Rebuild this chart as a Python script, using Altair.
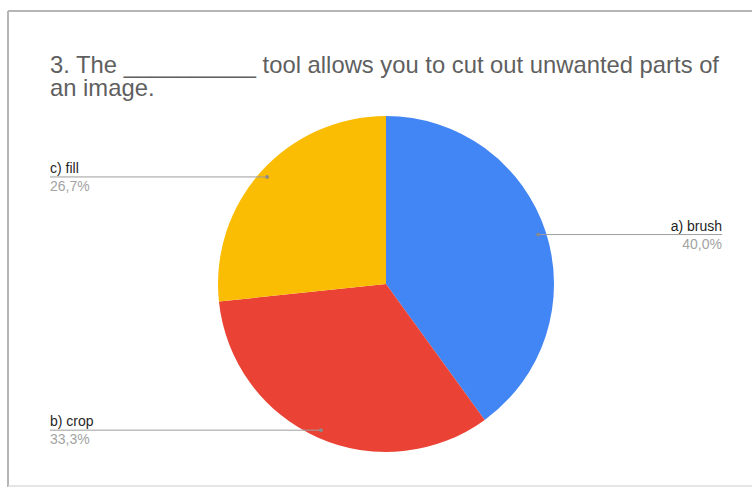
import altair as alt
import pandas as pd

# ---- data ----
categories = ["a) brush", "b) crop", "c) fill"]
counts = [6, 5, 4]
colors = ["#4285F4", "#EA4335", "#FBBC04"]
title_lines = [
    "3. The __________ tool allows you to cut out unwanted parts of",
    "an image.",
]

df = pd.DataFrame({"cat": categories, "count": counts, "idx": list(range(len(categories)))})

CX, CY, R, RL = 386, 284, 168, 160
LEFT_X, RIGHT_X = 50, 722
FONT = "Liberation Sans"

color_scale = alt.Scale(domain=categories, range=colors)

pie = alt.Chart(df).mark_arc(radius=R).encode(
    theta=alt.Theta("count:Q", stack=True),
    color=alt.Color("cat:N", scale=color_scale, legend=None),
    order=alt.Order("idx:Q"),
    x=alt.value(CX),
    y=alt.value(CY),
)

base = (
    alt.Chart(df)
    .transform_joinaggregate(total="sum(count)")
    .transform_window(cum="sum(count)", sort=[alt.SortField("idx")], frame=[None, 0])
    .transform_calculate(
        mid="(datum.cum - datum.count/2) / datum.total * 2 * PI",
        pct="datum.count / datum.total",
    )
    .transform_calculate(
        px=f"{CX} + {RL} * sin(datum.mid)",
        py=f"{CY} - {RL} * cos(datum.mid)",
        ptxt="replace(format(datum.pct, '.1%'), '.', ',')",
    )
    .transform_calculate(
        side=f"datum.px > {CX} ? 'right' : 'left'",
        x1=f"datum.px > {CX} ? datum.px : {LEFT_X}",
        x2=f"datum.px > {CX} ? {RIGHT_X} : datum.px",
        lx=f"datum.px > {CX} ? {RIGHT_X} : {LEFT_X}",
        ly="datum.py - 4",
        py2="datum.py + 14",
    )
)

xs = lambda f: alt.X(f"{f}:Q", scale=None, axis=None)
ys = lambda f: alt.Y(f"{f}:Q", scale=None, axis=None)

leaders = base.mark_rule(color="#9e9e9e", strokeWidth=1).encode(
    x=xs("x1"), x2="x2:Q", y=ys("py")
)
dots = base.mark_circle(size=14, color="#8a8a8a", opacity=1).encode(x=xs("px"), y=ys("py"))


def labels(side, align):
    b = base.transform_filter(f"datum.side == '{side}'")
    name = b.mark_text(
        align=align, baseline="alphabetic", font=FONT, fontSize=14, color="#1f1f1f"
    ).encode(x=xs("lx"), y=ys("ly"), text="cat:N")
    pct = b.mark_text(
        align=align, baseline="alphabetic", font=FONT, fontSize=14, color="#a3a3a3"
    ).encode(x=xs("lx"), y=ys("py2"), text="ptxt:N")
    return name + pct


title_df = pd.DataFrame({"line": title_lines, "i": list(range(len(title_lines)))})
title = (
    alt.Chart(title_df)
    .transform_calculate(ty="73 + 22.5 * datum.i", tx="50")
    .mark_text(align="left", baseline="alphabetic", font=FONT, fontSize=23.8, color="#5f5f5f")
    .encode(x=xs("tx"), y=ys("ty"), text="line:N")
)

frame_df = pd.DataFrame({"k": [0]})
frame_left = alt.Chart(frame_df).mark_rule(color="#b5b5b5", strokeWidth=2).encode(
    x=alt.value(8), y=alt.value(11), y2=alt.value(487)
)
frame_top = alt.Chart(frame_df).mark_rule(color="#b5b5b5", strokeWidth=2).encode(
    x=alt.value(8), x2=alt.value(752), y=alt.value(11)
)
frame_bottom = alt.Chart(frame_df).mark_rule(color="#dcdcdc", strokeWidth=1.5).encode(
    x=alt.value(8), x2=alt.value(752), y=alt.value(486)
)

chart = (
    alt.layer(
        frame_left, frame_top, frame_bottom, title, pie, leaders, dots,
        labels("left", "left"), labels("right", "right"),
    )
    .properties(width=752, height=488, autosize="none", padding=0, background="white")
    .configure_view(stroke=None)
)

chart.save("out.html", embed_options={"renderer": "svg", "actions": False})
